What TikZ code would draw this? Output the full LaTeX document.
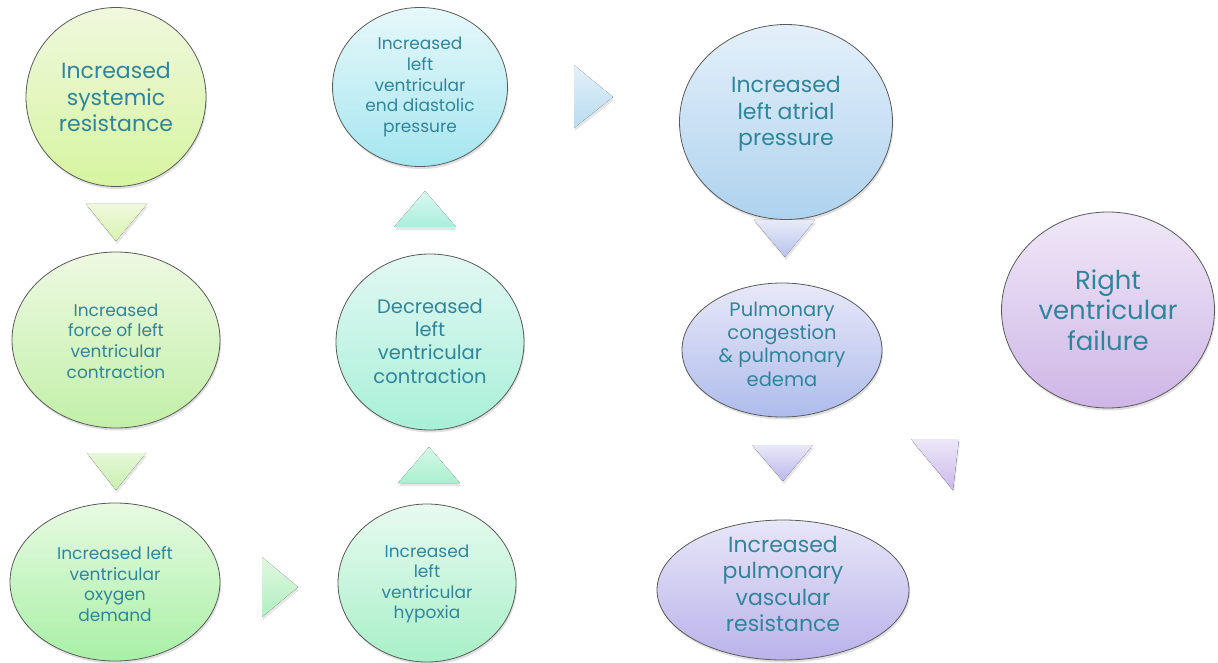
\documentclass[tikz,border=0pt]{standalone}
\usepackage{fontspec}
\setmainfont{Poppins}
\usetikzlibrary{shapes.geometric,shadows}
\definecolor{txtc}{RGB}{49,133,155}
\definecolor{edgec}{RGB}{90,90,90}
% ellipse gradients
\definecolor{aT}{HTML}{F0F8DE}\definecolor{aB}{HTML}{D6F5A0}
\definecolor{bT}{HTML}{EEF9E2}\definecolor{bB}{HTML}{C2F0A8}
\definecolor{cT}{HTML}{E8FAE2}\definecolor{cB}{HTML}{A8F0A6}
\definecolor{dT}{HTML}{E8FAF0}\definecolor{dB}{HTML}{A8F0C8}
\definecolor{eT}{HTML}{E2F8F2}\definecolor{eB}{HTML}{A8F0D8}
\definecolor{fT}{HTML}{E6F8FA}\definecolor{fB}{HTML}{A6E6F0}
\definecolor{gT}{HTML}{E4F0FA}\definecolor{gB}{HTML}{AED2EE}
\definecolor{hT}{HTML}{E8E8F8}\definecolor{hB}{HTML}{AEBCEC}
\definecolor{iT}{HTML}{E8E6F8}\definecolor{iB}{HTML}{BAB2EA}
\definecolor{jT}{HTML}{F0E8F8}\definecolor{jB}{HTML}{CEB6E6}
% triangle gradients
\definecolor{t1T}{HTML}{F0F8DC}\definecolor{t1B}{HTML}{D8F4B0}
\definecolor{t2T}{HTML}{E6F8D6}\definecolor{t2B}{HTML}{C8F0B0}
\definecolor{t3T}{HTML}{E0F8E0}\definecolor{t3B}{HTML}{B0F0C0}
\definecolor{t4T}{HTML}{D8F8E8}\definecolor{t4B}{HTML}{A8F0D0}
\definecolor{t5T}{HTML}{DCF8F0}\definecolor{t5B}{HTML}{A8EEDC}
\definecolor{t6T}{HTML}{E4F0FA}\definecolor{t6B}{HTML}{B8DCF0}
\definecolor{t7T}{HTML}{E8EAF8}\definecolor{t7B}{HTML}{B8C4EE}
\definecolor{t8T}{HTML}{E8E8F8}\definecolor{t8B}{HTML}{BCB8EC}
\definecolor{t9T}{HTML}{ECE8F8}\definecolor{t9B}{HTML}{CCB8EC}
\tikzset{
  bub/.style={ellipse, draw=edgec, line width=0.8pt, inner sep=0pt,
    drop shadow={opacity=0.25, shadow xshift=1pt, shadow yshift=-2.5pt}},
  txt/.style={text=txtc, align=center, inner sep=0pt},
  fs/.style={font=\fontsize{17}{20.6}\selectfont},
  fm/.style={font=\fontsize{19.5}{23.3}\selectfont},
  fl/.style={font=\fontsize{22}{26.5}\selectfont},
  fx/.style={font=\fontsize{26}{30.5}\selectfont},
  tri/.style={drop shadow={opacity=0.2, shadow xshift=1pt, shadow yshift=-3pt}},
}
\begin{document}
\begin{tikzpicture}[x=1pt,y=-1pt]
\useasboundingbox (0,0) rectangle (1218,663);
% ---- ellipses ----
\node[bub, minimum width=180pt, minimum height=179pt, top color=aT, bottom color=aB] (n1) at (116,97) {};
\node[bub, minimum width=208pt, minimum height=176pt, top color=bT, bottom color=bB] (n2) at (116,340) {};
\node[bub, minimum width=210pt, minimum height=158pt, top color=cT, bottom color=cB] (n3) at (115,582) {};
\node[bub, minimum width=178pt, minimum height=158pt, top color=dT, bottom color=dB] (n4) at (427,583) {};
\node[bub, minimum width=188pt, minimum height=176pt, top color=eT, bottom color=eB] (n5) at (430,342) {};
\node[bub, minimum width=175pt, minimum height=159pt, top color=fT, bottom color=fB] (n6) at (420,87) {};
\node[bub, minimum width=213pt, minimum height=195pt, top color=gT, bottom color=gB] (n7) at (786,122) {};
\node[bub, minimum width=200pt, minimum height=134pt, top color=hT, bottom color=hB] (n8) at (782,350) {};
\node[bub, minimum width=252pt, minimum height=140pt, top color=iT, bottom color=iB] (n9) at (783,590) {};
\node[bub, minimum width=213pt, minimum height=196pt, top color=jT, bottom color=jB] (n10) at (1108,310) {};
% ---- texts ----
\node[txt, fl] (l1) at (116,97) {Increased\\systemic\\resistance};
\node[txt, fs] (l2) at (116,341) {Increased\\force of left\\ventricular\\contraction};
\node[txt, fs] (l3) at (115,584) {Increased left\\ventricular\\oxygen\\demand};
\node[txt, fs] (l4) at (427,584) {Increased\\left\\ventricular\\hypoxia};
\node[txt, fm] (l5) at (430,341) {Decreased\\left\\ventricular\\contraction};
\node[txt, fs] (l6) at (420,87) {Increased\\left\\ventricular\\end diastolic\\pressure};
\node[txt, fl] (l7) at (786,114) {Increased\\left atrial\\pressure};
\node[txt, fm] (l8) at (782,344) {Pulmonary\\congestion\\\& pulmonary\\edema};
\node[txt, fl] (l9) at (783,584) {Increased\\pulmonary\\vascular\\resistance};
\node[txt, fx] (l10) at (1108,310) {Right\\ventricular\\failure};
% ---- triangle arrows ----
\fill[tri, top color=t1T, bottom color=t1B] (86,204) -- (147,204) -- (116,241) -- cycle;
\fill[tri, top color=t2T, bottom color=t2B] (87,453) -- (146,453) -- (116,490) -- cycle;
\fill[tri, top color=t3T, bottom color=t3B] (262,557) -- (298,587) -- (262,617) -- cycle;
\fill[tri, top color=t4T, bottom color=t4B] (429,447) -- (460,483) -- (398,483) -- cycle;
\fill[tri, top color=t5T, bottom color=t5B] (425,191) -- (456,227) -- (394,227) -- cycle;
\fill[tri, top color=t6T, bottom color=t6B] (574,65) -- (613,97) -- (574,128) -- cycle;
\fill[tri, top color=t7T, bottom color=t7B] (754,220) -- (815,220) -- (785,257) -- cycle;
\fill[tri, top color=t8T, bottom color=t8B] (752,445) -- (813,445) -- (783,481) -- cycle;
\fill[tri, top color=t9T, bottom color=t9B] (911,439) -- (959,439) -- (953,490) -- cycle;
\end{tikzpicture}
\end{document}
